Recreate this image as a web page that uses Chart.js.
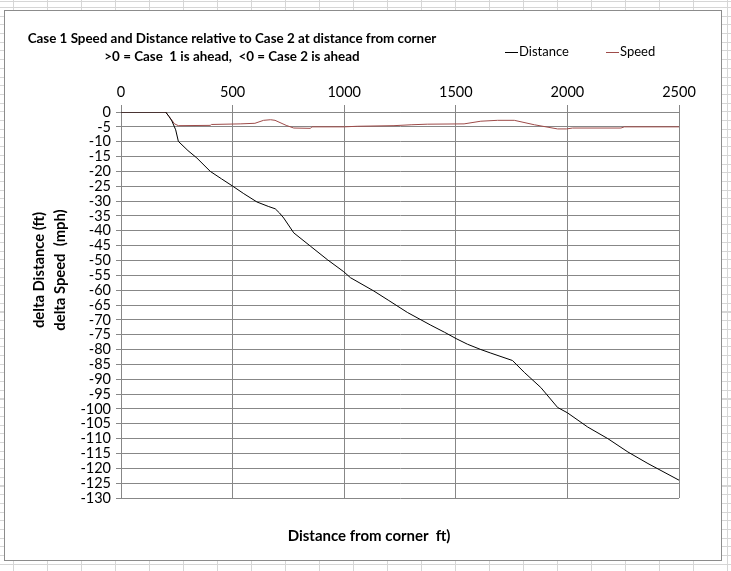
<!DOCTYPE html>
<html>
<head>
<meta charset="utf-8">
<script src="https://cdn.jsdelivr.net/npm/chart.js@4"></script>
<style>
  body {
    margin: 0;
    width: 731px;
    height: 571px;
    overflow: hidden;
    background-color: #fff;
    background-image:
      repeating-linear-gradient(to right, #d6d6d6 0 1px, transparent 1px 34px),
      repeating-linear-gradient(to bottom, #d6d6d6 0 1px, transparent 1px 8.7px);
    background-position: 13px 7px;
    font-family: Lato, "Noto Sans", sans-serif;
    position: relative;
  }
  #box {
    position: absolute;
    left: 4px; top: 10px;
    width: 716px; height: 549px;
    border: 1px solid #8c8c8c;
    background: #fff;
  }
  #box canvas { position: absolute; left: 0; top: 0; }
  .txt { position: absolute; white-space: nowrap; color: #000; }
  .title { font-weight: bold; font-size: 13.4px; transform: translate(-50%, -50%); }
  .leg { font-size: 13px; transform: translateY(-50%); }
  .leg span { display: inline-block; width: 13px; height: 1px; vertical-align: middle; margin-right: 1px; }
  .ytitle { font-weight: bold; font-size: 14.8px; transform: translate(-50%, -50%) rotate(-90deg); }
</style>
</head>
<body>
<div id="box"><canvas id="chart" width="716" height="549"></canvas></div>

<div class="txt title" style="left:232px; top:38px;">Case 1 Speed and Distance relative to Case 2 at distance from corner</div>
<div class="txt title" style="left:232px; top:56px;">&gt;0 = Case&nbsp; 1 is ahead,&nbsp; &lt;0 = Case 2 is ahead</div>

<div class="txt leg" style="left:505px; top:51px;"><span style="background:#000"></span>Distance</div>
<div class="txt leg" style="left:606px; top:51px;"><span style="background:#9e4b49"></span>Speed</div>

<div class="txt ytitle" style="left:38px; top:270px;">delta Distance (ft)</div>
<div class="txt ytitle" style="left:59px; top:270px;">delta Speed&nbsp; (mph)</div>

<div class="txt title" style="left:369px; top:535px; font-size:15px;">Distance from corner&nbsp; ft)</div>

<script>
// Distance line: x = distance from corner (ft), y = delta distance (ft)
const distX = [0, 200, 215, 228, 245, 257, 300, 340, 400, 450, 501, 550, 609, 660, 691, 710, 729, 774, 849, 924,
               998, 1028, 1133, 1200, 1283, 1388, 1450, 1501, 1552, 1612, 1657, 1754, 1807, 1881, 1956, 2000,
               2091, 2181, 2271, 2361, 2500];
const distY = [0, 0, -1.5, -3, -6, -9.9, -13, -15.5, -20, -22.5, -25, -27.5, -30.3, -31.8, -32.6, -34, -35.7, -40.7, -45.2, -49.7,
               -53.8, -55.8, -60.3, -63.5, -67.5, -71.8, -74.2, -76.3, -78.2, -80.0, -81.2, -83.7, -87.7, -92.8, -99.5, -101.3,
               -106.1, -110, -114.5, -118.4, -124];

// Speed line: x = distance from corner (ft), y = delta speed (mph)
const speedX = [0, 200, 215, 240, 257, 400, 405, 534, 600, 639, 670, 690, 740, 774, 849, 855, 1000, 1060, 1223,
                1300, 1372, 1537, 1612, 1687, 1762, 1852, 1956, 1996, 2023, 2240, 2255, 2500];
const speedY = [0, 0, -1.5, -4.0, -4.6, -4.5, -4.2, -4.0, -3.8, -2.8, -2.6, -2.8, -4.5, -5.4, -5.5, -5.0, -5.0, -4.8, -4.6,
                -4.3, -4.1, -4.0, -3.1, -2.8, -2.8, -4.3, -5.7, -5.7, -5.4, -5.4, -5.0, -5.0];

const xTicks = [0, 500, 1000, 1500, 2000, 2500];

const toPoints = (xs, ys) => xs.map((x, i) => ({ x: x, y: ys[i] }));

const gridColor = '#878787';

new Chart(document.getElementById('chart').getContext('2d'), {
    type: 'line',
    data: {
        datasets: [{
            label: 'Distance',
            data: toPoints(distX, distY),
            borderColor: '#000',
            borderWidth: 1,
            pointRadius: 0,
            tension: 0
        }, {
            label: 'Speed',
            data: toPoints(speedX, speedY),
            borderColor: '#9e4b49',
            borderWidth: 1,
            pointRadius: 0,
            tension: 0
        }]
    },
    options: {
        responsive: false,
        animation: false,
        layout: { padding: { left: 0, top: 0, right: 42, bottom: 62 } },
        plugins: {
            legend: { display: false },
            title: { display: false },
            tooltip: { enabled: false }
        },
        scales: {
            x: {
                type: 'linear',
                position: 'top',
                min: 0,
                max: 2500,
                afterBuildTicks: s => { s.ticks = xTicks.map(v => ({ value: v })); },
                afterFit: s => { s.height = 101; },
                ticks: {
                    callback: v => String(v),
                    color: '#000',
                    font: { family: 'Lato', size: 14.5 },
                    padding: 4,
                    maxRotation: 0,
                    autoSkip: false
                },
                grid: { color: gridColor, lineWidth: 1, tickLength: 7 },
                border: { color: gridColor }
            },
            y: {
                min: -130,
                max: 0,
                ticks: {
                    stepSize: 5,
                    autoSkip: false,
                    callback: v => String(v),
                    color: '#000',
                    font: { family: 'Lato', size: 14.5 },
                    padding: 5
                },
                afterFit: s => { s.width = 116; },
                grid: { color: gridColor, lineWidth: 1, tickLength: 5 },
                border: { color: gridColor }
            }
        }
    }
});
</script>
</body>
</html>
